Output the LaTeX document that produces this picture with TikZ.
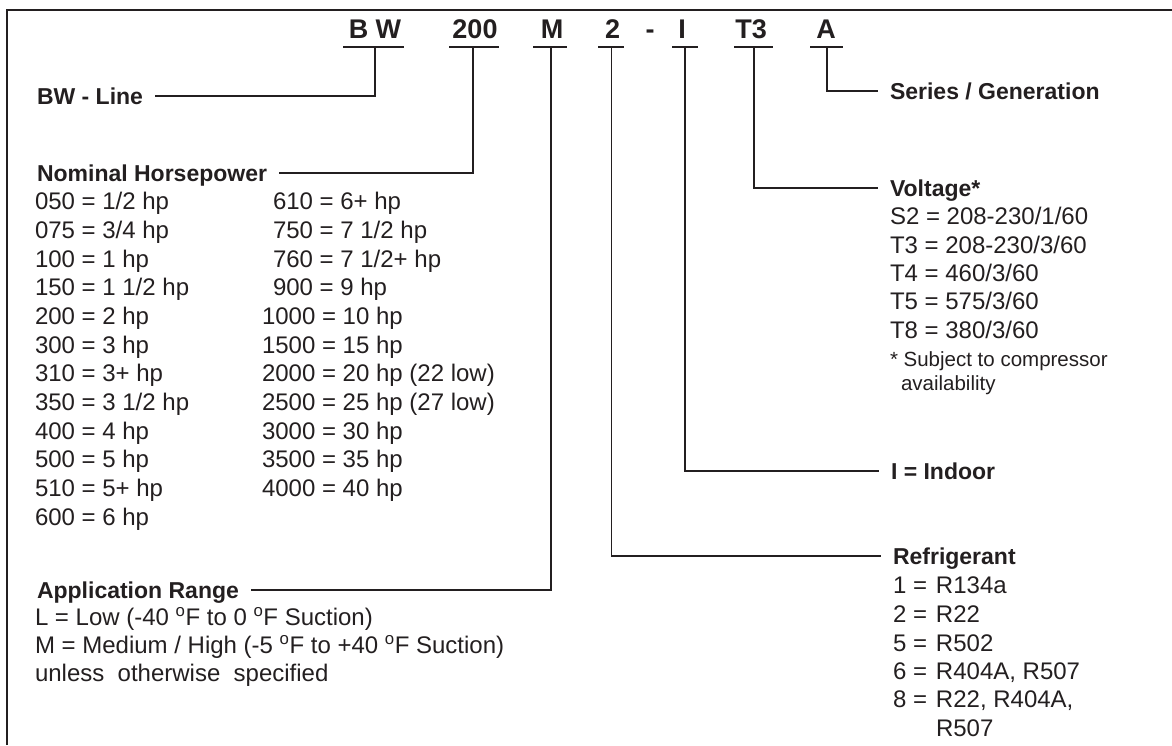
\documentclass[tikz,border=0pt]{standalone}
\usepackage{fontspec}
\setmainfont{Liberation Sans}
\definecolor{ink}{RGB}{35,31,32}
\begin{document}
\begin{tikzpicture}[x=1pt,y=-1pt,
  every node/.style={inner sep=0pt, outer sep=0pt, text=ink},
  ttl/.style={font=\bfseries\fontsize{27}{30}\selectfont, anchor=base},
  lbl/.style={font=\bfseries\fontsize{23}{26}\selectfont, text height=16.5pt, text depth=0pt, inner xsep=12pt, inner ysep=0pt},
  body/.style={font=\fontsize{24}{28}\selectfont, anchor=base west},
  note/.style={font=\fontsize{20.5}{24}\selectfont, anchor=base west},
  frame/.style={line width=2pt, draw=ink},
  conn/.style={line width=1.9pt, draw=ink},
  uline/.style={line width=1.9pt, draw=ink}]

\useasboundingbox (0,0) rectangle (1172,745);
\draw[frame] (7,745) -- (7,10) -- (1172,10);

% ---- title code ----
\node[ttl] (tBW) at (375,38) {B W};
\node[ttl] (t200) at (475,38) {200};
\node[ttl] (tM) at (552,38) {M};
\node[ttl] (t2) at (612.5,38) {2};
\node[ttl] (tdash) at (650,38) {-};
\node[ttl] (tI) at (682,38) {I};
\node[ttl] (tT3) at (751,38) {T3};
\node[ttl] (tA) at (826,38) {A};

% underline ends and drop points
\coordinate (uBWa) at (343,47); \coordinate (uBWb) at (404,47); \coordinate (dBW) at (375,47);
\coordinate (u200a) at (449,47); \coordinate (u200b) at (499,47); \coordinate (d200) at (473,47);
\coordinate (uMa) at (533,47); \coordinate (uMb) at (567,47); \coordinate (dM) at (551,47);
\coordinate (u2a) at (598,47); \coordinate (u2b) at (624,47); \coordinate (d2) at (611.5,47);
\coordinate (uIa) at (672,47); \coordinate (uIb) at (698,47); \coordinate (dI) at (685,47);
\coordinate (uT3a) at (734,47); \coordinate (uT3b) at (773,47); \coordinate (dT3) at (754,47);
\coordinate (uAa) at (810,47); \coordinate (uAb) at (843,47); \coordinate (dA) at (827,47);
\foreach \k in {BW,200,M,2,I,T3,A} \draw[uline] (u\k a) -- (u\k b);

% ---- labels ----
\node[lbl, anchor=west] (lBW) at (25,96) {BW - Line};
\node[lbl, anchor=west] (l200) at (25,173) {Nominal Horsepower};
\node[lbl, anchor=west] (lM) at (25,590) {Application Range};
\node[lbl, anchor=west] (lA) at (878,91) {Series / Generation};
\node[lbl, anchor=west] (lT3) at (878,188) {Voltage*};
\node[lbl, anchor=west] (lI) at (879,471) {I = Indoor};
\node[lbl, anchor=west] (l2) at (881,556) {Refrigerant};

% ---- connectors ----
\draw[conn] (dBW) |- (lBW);
\draw[conn] (d200) |- (l200);
\draw[conn] (dM) |- (lM);
\draw[conn] (dA) |- (lA);
\draw[conn] (dT3) |- (lT3);
\draw[conn] (dI) |- (lI);
\draw[conn] (d2) |- (l2);

% ---- horsepower table ----
\foreach \txt [count=\i] in {050 = 1/2 hp, 075 = 3/4 hp, 100 = 1 hp, 150 = 1 1/2 hp, 200 = 2 hp, 300 = 3 hp, 310 = 3+ hp, 350 = 3 1/2 hp, 400 = 4 hp, 500 = 5 hp, 510 = 5+ hp, 600 = 6 hp}
  \node[body] (hpa\i) at (35,{201+28.7*(\i-1)+8.6}) {\txt};
\foreach \txt [count=\i] in {610 = 6+ hp, 750 = 7 1/2 hp, 760 = 7 1/2+ hp, 900 = 9 hp}
  \node[body] (hpb\i) at (273,{201+28.7*(\i-1)+8.6}) {\txt};
\foreach \txt [count=\i from 5] in {1000 = 10 hp, 1500 = 15 hp, 2000 = 20 hp (22 low), 2500 = 25 hp (27 low), 3000 = 30 hp, 3500 = 35 hp, 4000 = 40 hp}
  \node[body] (hpb\i) at (262,{201+28.7*(\i-1)+8.6}) {\txt};

% ---- application range ----
\node[body] (ap1) at (35,{617+8.6}) {L = Low (-40 \textsuperscript{o}F to 0 \textsuperscript{o}F Suction)};
\node[body] (ap2) at (35,{645+8.6}) {M = Medium / High (-5 \textsuperscript{o}F to +40 \textsuperscript{o}F Suction)};
\node[body] (ap3) at (35,{673+8.6}) {unless\ \ otherwise\ \ specified};

% ---- voltage ----
\foreach \txt [count=\i] in {S2 = 208-230/1/60, T3 = 208-230/3/60, T4 = 460/3/60, T5 = 575/3/60, T8 = 380/3/60}
  \node[body] (v\i) at (890,{216+28.4*(\i-1)+8.6}) {\txt};
\node[note] (vn1) at (890,{359+7.3}) {* Subject to compressor};
\node[note] (vn2) at (901,{383+7.3}) {availability};

% ---- refrigerant ----
\node[body] (r1) at (893,{585+8.6}) {\makebox[43pt][l]{1 =}R134a};
\node[body] (r2) at (893,{614+8.6}) {\makebox[43pt][l]{2 =}R22};
\node[body] (r3) at (893,{643+8.6}) {\makebox[43pt][l]{5 =}R502};
\node[body] (r4) at (893,{671+8.6}) {\makebox[43pt][l]{6 =}R404A, R507};
\node[body] (r5) at (893,{699+8.6}) {\makebox[43pt][l]{8 =}R22, R404A,};
\node[body] (r6) at (936,{728+8.6}) {R507};
\end{tikzpicture}
\end{document}
